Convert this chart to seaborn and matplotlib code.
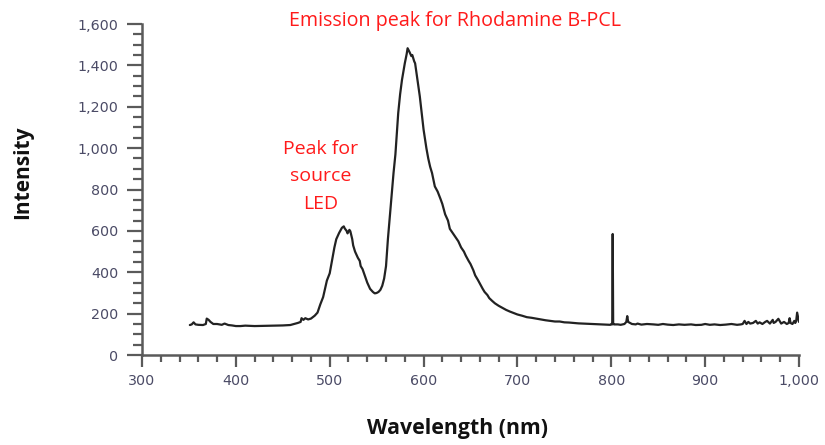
import matplotlib
matplotlib.use("Agg")
import matplotlib.pyplot as plt
import seaborn as sns
import pandas as pd
from matplotlib.ticker import MultipleLocator, FuncFormatter

# ---- data (split into spectral segments) ----
base_wl = [351, 353, 355, 357, 360, 365, 368, 369, 371, 373, 376, 380, 385, 388, 392, 396,
           400, 405, 410, 420, 430, 440, 450, 458, 462, 466]
base_int = [145, 148, 158, 148, 146, 145, 150, 176, 170, 160, 150, 150, 146, 152, 145, 143,
            140, 140, 142, 140, 141, 142, 143, 145, 150, 155]

led_wl = [469, 470, 472, 474, 477, 480, 484, 487, 490, 493, 495, 497, 500, 503, 505, 507,
          510, 513, 515, 516, 518, 519, 521, 522, 524, 525, 527, 530, 532, 533, 535, 538,
          540, 543, 546, 548, 550, 552, 554]
led_int = [160, 178, 170, 178, 172, 176, 190, 205, 245, 280, 320, 360, 395, 470, 520, 560,
           590, 615, 622, 612, 600, 588, 605, 598, 560, 530, 500, 470, 455, 430, 415, 375,
           350, 320, 305, 298, 300, 305, 315]

rhod_wl = [556, 558, 560, 562, 565, 568, 570, 573, 575, 577, 580, 582, 583, 585, 587, 588,
           590, 591, 593, 596, 598, 600, 603, 605, 607, 609, 612, 615, 618, 620, 623, 626,
           628, 631, 634, 637, 640, 643, 645, 648, 650, 653, 655, 658, 660, 663, 665, 668,
           670, 673, 676, 680, 684, 688, 692, 696, 700]
rhod_int = [335, 370, 430, 560, 720, 880, 970, 1170, 1260, 1330, 1410, 1455, 1483, 1465, 1445, 1450,
            1420, 1410, 1345, 1250, 1170, 1090, 1000, 950, 910, 880, 815, 790, 755, 730, 680, 650,
            610, 590, 570, 550, 520, 500, 480, 455, 440, 410, 385, 362, 345, 320, 305, 290,
            275, 262, 250, 238, 228, 218, 210, 203, 196]

tail_wl = [705, 710, 715, 720, 725, 730, 735, 740, 745, 750, 755, 760, 765, 770, 775, 780,
           785, 790, 795, 799]
tail_int = [190, 183, 180, 176, 172, 168, 165, 162, 162, 158, 157, 155, 153, 152, 151, 150,
            149, 148, 147, 146]

nir_wl = [800, 801, 801.5, 802, 803, 807, 810, 814, 816, 817, 818, 822, 826, 828, 832, 838,
          845, 850, 855, 860, 866, 872, 878, 885, 890, 896, 900, 905, 910, 916, 922, 928,
          934, 938, 940, 942, 944, 946, 948, 951, 954, 956, 958, 961, 964, 966, 969, 972,
          973, 975, 978, 981, 984, 987, 989, 990, 991, 993, 995, 996, 997, 998, 1000]
nir_int = [150, 148, 585, 150, 148, 148, 146, 150, 160, 188, 160, 150, 148, 152, 147, 150,
           148, 146, 150, 147, 145, 148, 146, 148, 145, 146, 150, 146, 148, 145, 147, 150,
           146, 148, 150, 165, 150, 160, 152, 155, 165, 152, 158, 150, 160, 165, 152, 170,
           155, 160, 175, 152, 160, 150, 155, 178, 155, 150, 165, 155, 165, 205, 160]

x_major = [300, 400, 500, 600, 700, 800, 900, 1000]
y_major = [0, 200, 400, 600, 800, 1000, 1200, 1400, 1600]

title_text = "Emission peak for Rhodamine B-PCL"
led_text = "Peak for\nsource\nLED"
x_label = "Wavelength (nm)"
y_label = "Intensity"

wavelength = base_wl + led_wl + rhod_wl + tail_wl + nir_wl
intensity = base_int + led_int + rhod_int + tail_int + nir_int
df = pd.DataFrame({"Wavelength": wavelength, "Intensity": intensity})

sns.set_style("ticks")
plt.rcParams["font.family"] = ["DejaVu Sans"]

fig = plt.figure(figsize=(8.25, 4.45), dpi=100)
ax = fig.add_axes([0.1721, 0.2022, 0.7964, 0.7438])

sns.lineplot(data=df, x="Wavelength", y="Intensity", ax=ax, color="#222222",
             linewidth=1.6, estimator=None, sort=False)

ax.set_xlim(300, 1000)
ax.set_ylim(0, 1600)
ax.set_xticks(x_major)
ax.set_yticks(y_major)
ax.xaxis.set_minor_locator(MultipleLocator(20))
ax.yaxis.set_minor_locator(MultipleLocator(50))
fmt = FuncFormatter(lambda v, p: f"{v:,.0f}")
ax.xaxis.set_major_formatter(fmt)
ax.yaxis.set_major_formatter(fmt)

spine_c = "#5a5a5a"
for s in ["top", "right"]:
    ax.spines[s].set_visible(False)
for s in ["left", "bottom"]:
    ax.spines[s].set_color(spine_c)
    ax.spines[s].set_linewidth(1.8)

ax.tick_params(axis="y", which="major", length=11, width=1.6, color=spine_c,
               labelsize=10.3, labelcolor="#4b4b66", pad=6)
ax.tick_params(axis="y", which="minor", length=6.5, width=1.6, color=spine_c)
ax.tick_params(axis="x", which="major", length=8.5, width=1.6, color=spine_c,
               labelsize=10.3, labelcolor="#4b4b66", pad=5)
ax.tick_params(axis="x", which="minor", length=5, width=1.6, color=spine_c)

ax.set_xlabel("")
ax.set_ylabel("")

fig.text(0.554, 0.038, x_label, ha="center", va="center", fontsize=15.3,
         fontweight="bold", family=["Open Sans", "DejaVu Sans"], color="#111111")
fig.text(0.027, 0.614, y_label, ha="center", va="center", rotation=90, fontsize=15,
         fontweight="bold", family=["Open Sans", "DejaVu Sans"], color="#111111")

ax.text(633, 1565, title_text, ha="center", va="bottom", fontsize=14.2,
        color="#ff1a1a", family=["Open Sans", "DejaVu Sans"], clip_on=False)
ax.text(490, 1040, led_text, ha="center", va="top", fontsize=14, linespacing=1.68,
        color="#ff1a1a", family=["Open Sans", "DejaVu Sans"])

fig.savefig("out.png", dpi=100, facecolor="white")
